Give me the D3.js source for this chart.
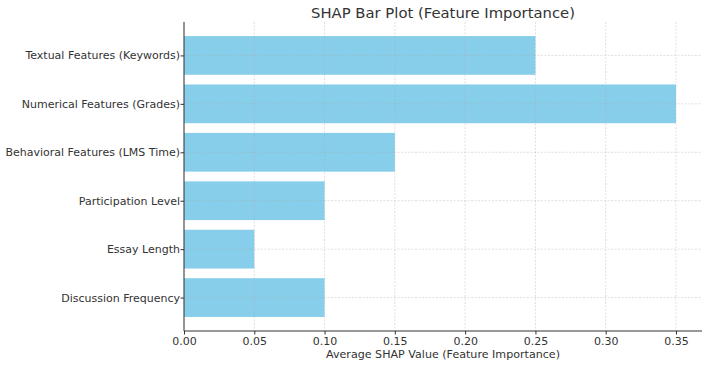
<!DOCTYPE html>
<html><head><meta charset="utf-8">
<script src="https://cdn.jsdelivr.net/npm/d3@7"></script>
<style>body{margin:0;background:#fff}svg{display:block}text{font-family:"DejaVu Sans",sans-serif;fill:#333}</style>
</head><body><svg id="c" width="708" height="366"></svg>
<script>
const categories = ["Textual Features (Keywords)","Numerical Features (Grades)","Behavioral Features (LMS Time)","Participation Level","Essay Length","Discussion Frequency"];
const values = [0.25,0.35,0.15,0.10,0.05,0.10];
const xTicks = [0,0.05,0.10,0.15,0.20,0.25,0.30,0.35];
const title = "SHAP Bar Plot (Feature Importance)";
const xLabel = "Average SHAP Value (Feature Importance)";

const svg = d3.select("#c");
const L=184, R=702, T=22, B=331;
const x = d3.scaleLinear().domain([0,0.3685]).range([L,R]);
const n = categories.length;
const lo = -0.4 - 0.05*(n-1+0.8), hi = n-1+0.4 + 0.05*(n-1+0.8);
const y = d3.scaleLinear().domain([lo,hi]).range([T,B]);
const unit = (B-T)/(hi-lo);

svg.append("g").selectAll("rect").data(values).join("rect")
  .attr("x", x(0)).attr("y",(d,i)=>y(i)-0.4*unit)
  .attr("width", d=>x(d)-x(0)).attr("height",0.8*unit)
  .attr("fill","#87ceeb");

const g = svg.append("g").attr("stroke","#b0b0b0").attr("stroke-opacity",0.5).attr("stroke-width",0.8).attr("stroke-dasharray","2,1.5");
xTicks.forEach(t=>g.append("line").attr("x1",x(t)).attr("x2",x(t)).attr("y1",T).attr("y2",B));
categories.forEach((c,i)=>g.append("line").attr("x1",L).attr("x2",R).attr("y1",y(i)).attr("y2",y(i)));

const xa = svg.append("g").attr("transform",`translate(0,${B})`)
  .call(d3.axisBottom(x).tickValues(xTicks).tickFormat(d3.format(".2f")).tickSizeOuter(0).tickSize(3.5).tickPadding(3));
xa.select(".domain").remove();
xa.selectAll("line").attr("stroke","#333");
xa.selectAll("text").attr("font-size",11).style("fill","#333");

const ya = svg.append("g").attr("transform",`translate(${L},0)`)
  .call(d3.axisLeft(y).tickValues(d3.range(n)).tickFormat(i=>categories[i]).tickSizeOuter(0).tickSize(3.5).tickPadding(0.5));
ya.select(".domain").remove();
ya.selectAll("line").attr("stroke","#333");
ya.selectAll("text").attr("font-size",11).style("fill","#333");

svg.append("line").attr("x1",L).attr("x2",L).attr("y1",T).attr("y2",B).attr("stroke","#333").attr("stroke-width",1);
svg.append("line").attr("x1",L).attr("x2",R).attr("y1",B).attr("y2",B).attr("stroke","#333").attr("stroke-width",1);

svg.append("text").attr("x",443).attr("y",18).attr("text-anchor","middle").attr("font-size",14.8).text(title);
svg.append("text").attr("x",443).attr("y",358).attr("text-anchor","middle").attr("font-size",11.1).text(xLabel);
</script></body></html>
